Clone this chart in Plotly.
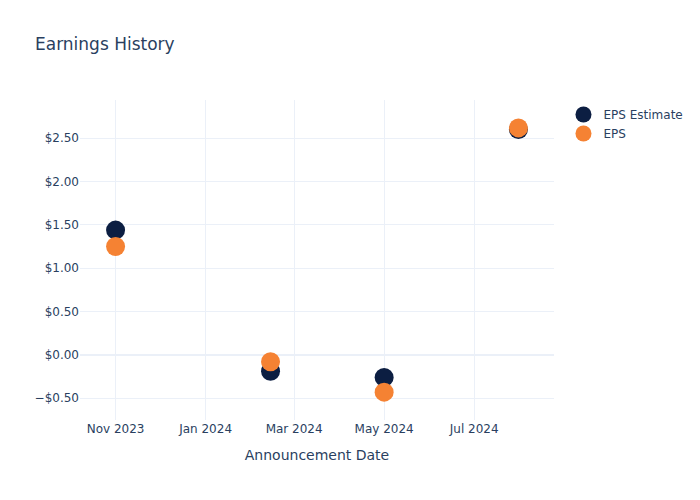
import plotly.graph_objects as go

dates = ["2023-11-01", "2024-02-14", "2024-05-01", "2024-07-31"]
eps_estimate = [1.44, -0.19, -0.26, 2.60]
eps_actual = [1.25, -0.08, -0.43, 2.62]

fig = go.Figure()
fig.add_trace(go.Scatter(x=dates, y=eps_estimate, mode="markers", name="EPS Estimate",
                         marker=dict(color="#0c1e42", size=19)))
fig.add_trace(go.Scatter(x=dates, y=eps_actual, mode="markers", name="EPS",
                         marker=dict(color="#f58233", size=19)))
fig.update_layout(
    template="plotly_white",
    width=700, height=500,
    font=dict(family="DejaVu Sans"),
    title=dict(text="Earnings History"),
    xaxis=dict(title="Announcement Date"),
    yaxis=dict(tickformat="$.2f"),
)
fig.write_html("out.html")
